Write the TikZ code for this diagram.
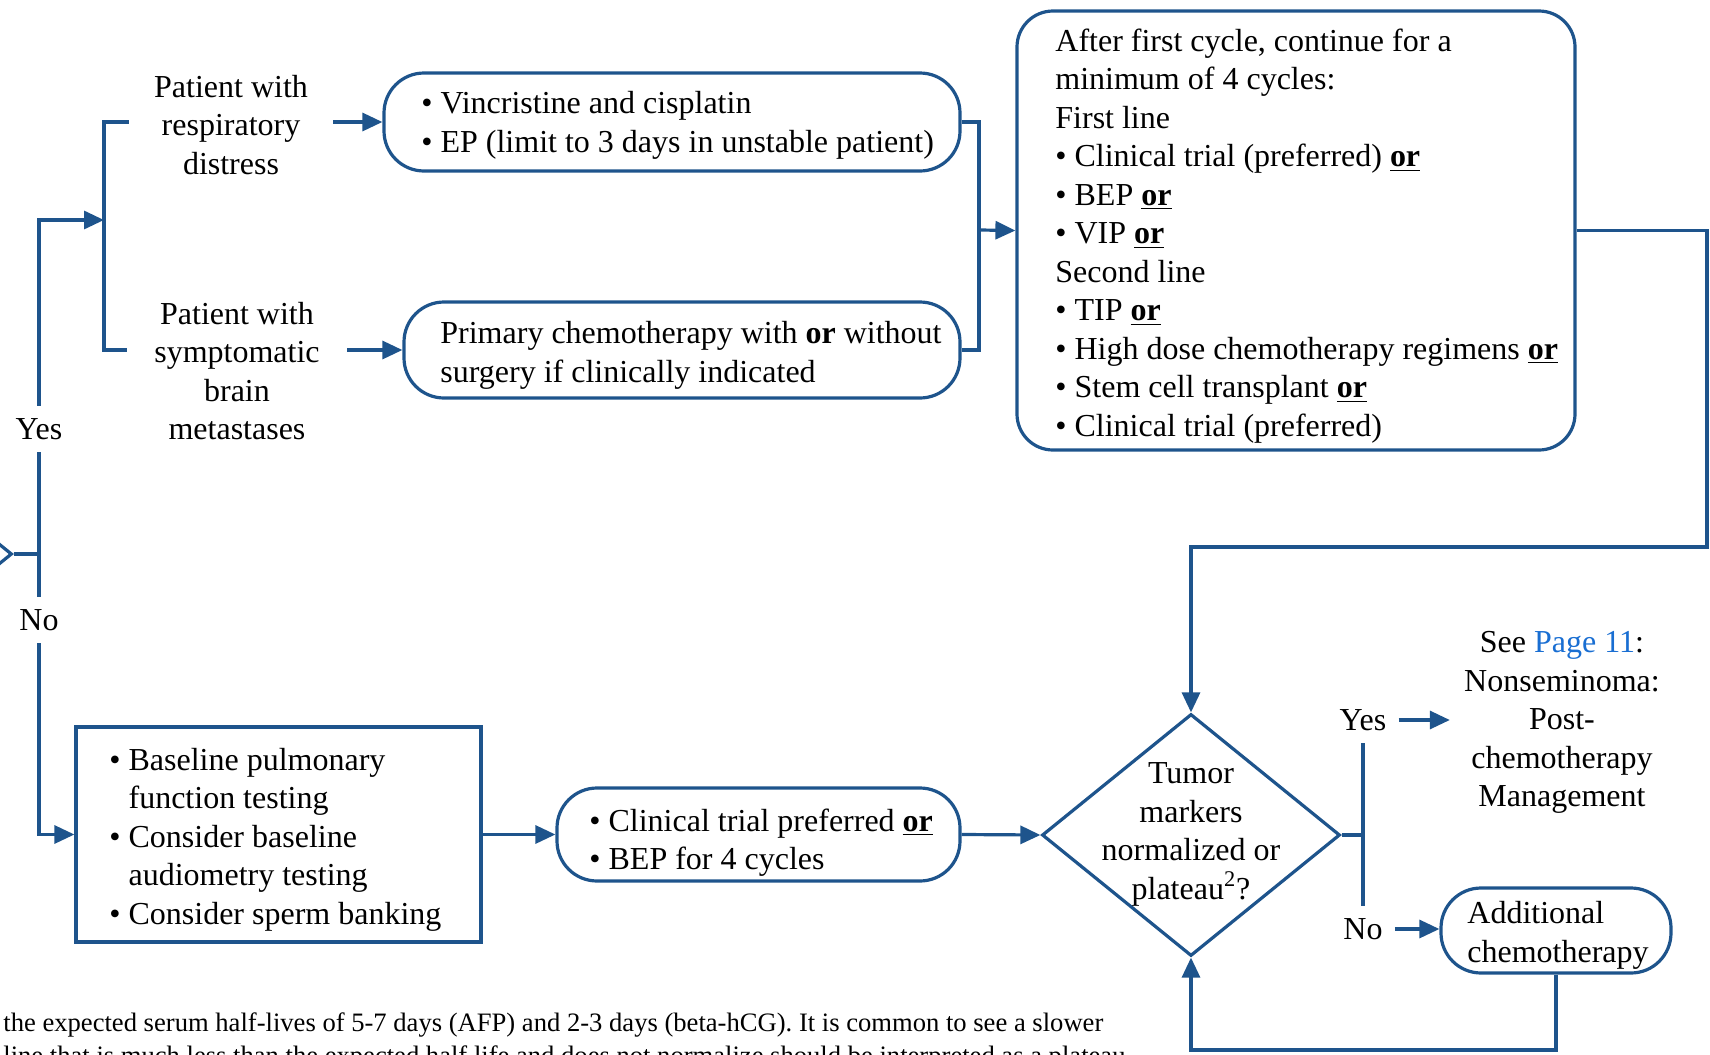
\documentclass[tikz,border=0pt]{standalone}
\usepackage{fontspec}
\setmainfont{Liberation Serif}
\usepackage{tikz}
\usetikzlibrary{arrows.meta,shapes.geometric}
\definecolor{flowblue}{RGB}{30,84,140}
\definecolor{linkblue}{RGB}{25,110,210}

\begin{document}
\begin{tikzpicture}[x=0.5pt,y=-0.5pt,
	every node/.style={font=\fontsize{16}{19.25}\selectfont},
	line/.style={draw=flowblue,line width=1.6pt},
	arrow/.style={line,-{Triangle[length=10pt,width=9pt]}},
	pill/.style={line,rounded corners=20pt,inner sep=0pt},
	txt/.style={align=left,inner sep=0pt,anchor=west},
	lbl/.style={inner xsep=6pt,inner ysep=6pt}]
	
	\useasboundingbox (0,0) rectangle (1710,1055);
	\clip (0,0) rectangle (1710,1055);
	
	% boxes
	\node[pill,minimum width=288pt,minimum height=49pt] (vinc) at (672,122) {};
	\node[pill,minimum width=278pt,minimum height=48pt] (primary) at (682,350) {};
	\node[pill,rounded corners=18pt,minimum width=279pt,minimum height=219.5pt] (cycles) at (1296,230.5) {};
	\node[line,inner sep=0pt,minimum width=202.5pt,minimum height=107.5pt] (base) at (278.5,834.5) {};
	\node[pill,minimum width=201.5pt,minimum height=46.5pt] (trial) at (758.5,834.5) {};
	\node[line,shape=diamond,inner sep=0pt,minimum width=149pt,minimum height=121pt] (markers) at (1191,835) {};
	\node[line,shape=diamond,inner sep=0pt,minimum width=149pt,minimum height=121pt] (prev) at (-137,554) {};
	\node[pill,minimum width=115pt,minimum height=42.5pt] (addl) at (1556,930.5) {};
	
	% texts
	\node[align=center,inner sep=0pt,minimum width=102pt] (resp) at (231,125) {Patient with\\respiratory\\distress};
	\node[align=center,inner sep=0pt,minimum width=110pt] (brain) at (237,371) {Patient with\\symptomatic\\brain\\metastases};
	\node[txt] (vinctxt) at (421,125.5) {\textbullet\ Vincristine and cisplatin\\\textbullet\ EP (limit to 3 days in unstable patient)};
	\node[txt] (primarytxt) at (440,355.5) {Primary chemotherapy with \textbf{or} without\\surgery if clinically indicated};
	\node[txt] (cyclestxt) at (1055,236) {After first cycle, continue for a\\minimum of 4 cycles:\\First line\\
		\textbullet\ Clinical trial (preferred) \underline{\textbf{or}}\\\textbullet\ BEP \underline{\textbf{or}}\\\textbullet\ VIP \underline{\textbf{or}}\\Second line\\
		\textbullet\ TIP \underline{\textbf{or}}\\\textbullet\ High dose chemotherapy regimens \underline{\textbf{or}}\\\textbullet\ Stem cell transplant \underline{\textbf{or}}\\\textbullet\ Clinical trial (preferred)};
	\node[txt] (basetxt) at (109,839.5) {\textbullet\ Baseline pulmonary\\\phantom{\textbullet\ }function testing\\\textbullet\ Consider baseline\\\phantom{\textbullet\ }audiometry testing\\\textbullet\ Consider sperm banking};
	\node[txt] (trialtxt) at (589,842.5) {\textbullet\ Clinical trial preferred \underline{\textbf{or}}\\\textbullet\ BEP for 4 cycles};
	\node[align=center,inner sep=0pt] (markerstxt) at (1191,834.5) {Tumor\\markers\\normalized or\\plateau\textsuperscript{2}?};
	\node[align=center,inner xsep=7pt,inner ysep=0pt] (see) at (1562,722.5) {See \textcolor{linkblue}{Page 11}:\\Nonseminoma:\\Post-\\chemotherapy\\Management};
	\node[txt] (addltxt) at (1467,935.5) {Additional\\chemotherapy};
	
	\node[lbl] (yes1) at (39,429) {Yes};
	\node[lbl] (no1) at (39,620) {No};
	\node[lbl] (yes2) at (1363,720) {Yes};
	\node[lbl] (no2) at (1363,929) {No};
	
	\node[anchor=base west,inner sep=0pt,font=\fontsize{13.3}{15}\selectfont] (note1) at (3,1031) {the expected serum half-lives of 5-7 days (AFP) and 2-3 days (beta-hCG). It is common to see a slower};
	\node[anchor=base west,inner sep=0pt,font=\fontsize{13.3}{15}\selectfont] (note2) at (3,1064) {line that is much less than the expected half life and does not normalize should be interpreted as a plateau.};
	
	\coordinate (split) at (39,554);
	\coordinate (fork) at (104,220);
	\coordinate (join) at (979,230);
	\coordinate (turn) at (1707,547);
	\coordinate (choice) at (1363,835);
	\coordinate (loop) at (1556,1050);
	
	% connectors
	\draw[line] (prev.east) -- (split);
	\draw[line] (split) -- (yes1.south);
	\draw[arrow] (yes1.north) |- (fork);
	\draw[line] (resp.west |- vinc.west) -| (fork) |- (brain.west |- primary.west);
	\draw[arrow] (resp.east |- vinc.west) -- (vinc.west);
	\draw[arrow] (brain.east |- primary.west) -- (primary.west);
	\draw[line] (vinc.east) -| (join) |- (primary.east);
	\draw[arrow] (join) -- (cycles.west);
	\draw[arrow] (cycles.east) -| (turn) -| (markers.north);
	\draw[line] (split) -- (no1.north);
	\draw[arrow] (no1.south) |- (base.west);
	\draw[arrow] (base.east) -- (trial.west);
	\draw[arrow] (trial.east) -- (markers.west);
	\draw[line] (markers.east) -- (choice);
	\draw[line] (yes2.south) -- (no2.north);
	\draw[arrow] (yes2.east) -- (see.west |- yes2.east);
	\draw[arrow] (no2.east) -- (addl.west |- no2.east);
	\draw[arrow] (addl.south) -- (loop) -| (markers.south);
	
\end{tikzpicture}
\end{document}
